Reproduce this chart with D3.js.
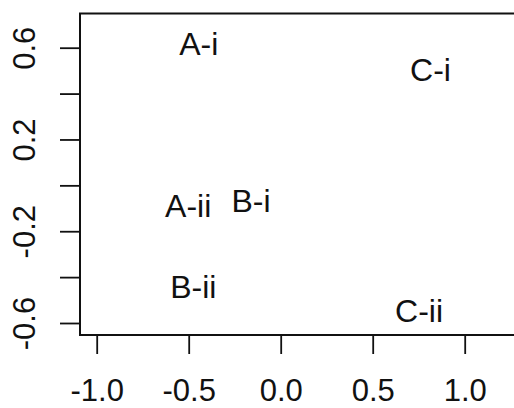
<!DOCTYPE html>
<html>
<head>
<meta charset="utf-8">
<script src="https://cdn.jsdelivr.net/npm/d3@7/dist/d3.min.js"></script>
<style>
  html, body { margin: 0; padding: 0; background: #fff; }
  svg { display: block; }
  text { font-family: "Liberation Sans", Arial, Helvetica, sans-serif; fill: #111; }
</style>
</head>
<body>
<svg id="chart" width="514" height="408"></svg>
<script>
// Point labels and their coordinates
const labels = ["A-i", "C-i", "A-ii", "B-i", "B-ii", "C-ii"];
const xValues = [-0.445, 0.814, -0.503, -0.161, -0.475, 0.752];
const yValues = [0.617, 0.504, -0.089, -0.065, -0.441, -0.544];

// Axis ticks
const xTicks = [-1.0, -0.5, 0.0, 0.5, 1.0];
const yTicks = [-0.6, -0.4, -0.2, 0.0, 0.2, 0.4, 0.6];
const yTickLabels = [-0.6, -0.2, 0.2, 0.6];

const svg = d3.select("#chart");
const frame = { left: 80, top: 13.5, bottom: 335, right: 540 };

const x = d3.scaleLinear().domain([-1, 1]).range([96.7, 464.7]);
const y = d3.scaleLinear().domain([-0.6, 0.6]).range([323, 47.7]);

const labelSize = 32;
const axisSize = 31;

// Tick numbers with a plain hyphen for the minus sign
const fmt = d => d3.format(".1f")(d).replace("\u2212", "-");

// Plot frame (the right edge runs past the visible area)
svg.append("rect")
  .attr("x", frame.left).attr("y", frame.top)
  .attr("width", frame.right - frame.left)
  .attr("height", frame.bottom - frame.top)
  .attr("fill", "none").attr("stroke", "#111").attr("stroke-width", 2);

// Bottom axis
const xAxis = d3.axisBottom(x)
  .tickValues(xTicks)
  .tickSize(19)
  .tickFormat(fmt);
const gx = svg.append("g").attr("transform", `translate(0,${frame.bottom})`).call(xAxis);
gx.select(".domain").remove();
gx.selectAll(".tick line").attr("stroke", "#111").attr("stroke-width", 1.8);
gx.selectAll(".tick text")
  .attr("y", 0).attr("dy", null)
  .attr("transform", "translate(0,66)")
  .style("font-family", "'Liberation Sans', Arial, sans-serif")
  .style("font-size", axisSize + "px")
  .attr("fill", "#111");

// Left axis
const yAxis = d3.axisLeft(y)
  .tickValues(yTicks)
  .tickSize(20)
  .tickFormat(d => yTickLabels.some(v => Math.abs(v - d) < 1e-9) ? fmt(d) : "");
const gy = svg.append("g").attr("transform", `translate(${frame.left},0)`).call(yAxis);
gy.select(".domain").remove();
gy.selectAll(".tick line").attr("stroke", "#111").attr("stroke-width", 1.8);
gy.selectAll(".tick text")
  .attr("x", null).attr("dy", null)
  .attr("text-anchor", "middle")
  .attr("transform", "translate(-45,0) rotate(-90)")
  .style("font-family", "'Liberation Sans', Arial, sans-serif")
  .style("font-size", axisSize + "px")
  .attr("fill", "#111");

// Point labels, centred on each coordinate
svg.append("g").selectAll("text")
  .data(labels.map((l, i) => ({ label: l, x: xValues[i], y: yValues[i] })))
  .join("text")
  .attr("x", d => x(d.x))
  .attr("y", d => y(d.y) + labelSize * 0.358)
  .attr("text-anchor", "middle")
  .style("font-size", labelSize + "px")
  .text(d => d.label);
</script>
</body>
</html>
